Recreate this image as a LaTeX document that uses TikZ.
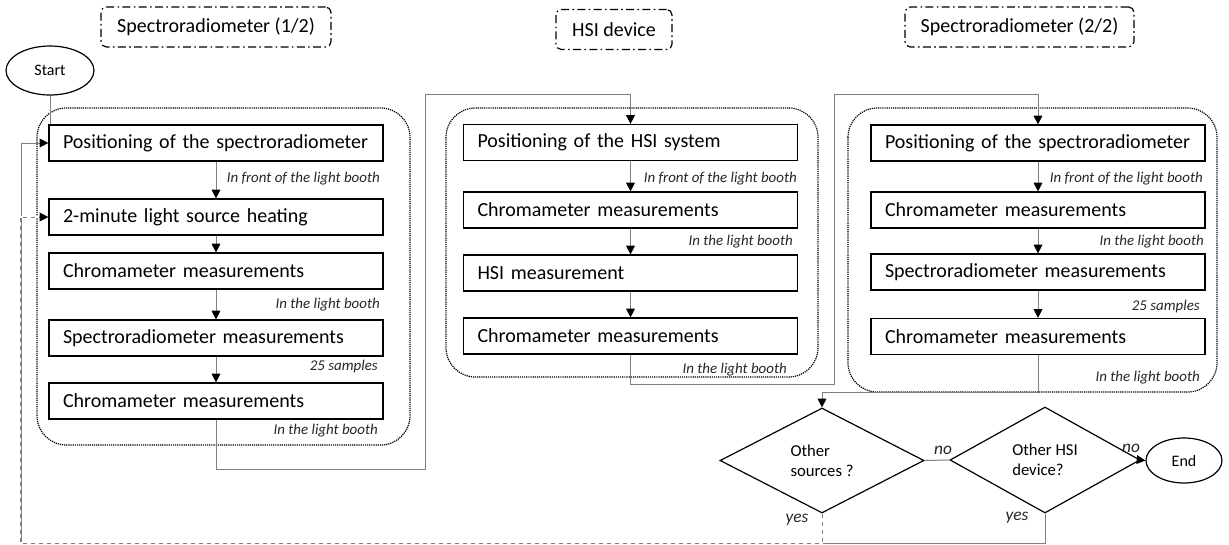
\documentclass[tikz,border=0pt]{standalone}
\usepackage{fontspec}
\setmainfont{Carlito}
\usetikzlibrary{shapes.geometric,arrows.meta}
\begin{document}
\begin{tikzpicture}[x=0.75pt,y=-0.75pt,
  box/.style={draw=black,line width=0.9pt,minimum height=27pt,text width=229.5pt,inner xsep=10.5pt,inner ysep=0pt,align=left,font=\fontsize{15}{18}\selectfont},
  lbl/.style={font=\fontsize{11.2}{13}\selectfont\itshape,anchor=east,inner sep=0pt,text=black!85},
  yn/.style={font=\fontsize{13}{15}\selectfont\itshape,inner sep=0pt,text=black!85},
  ttlbox/.style={draw=black,line width=0.9pt,dash pattern=on 6pt off 2.5pt on 1.2pt off 2.5pt,rounded corners=4pt,minimum height=30pt,inner xsep=0pt,font=\fontsize{15}{18}\selectfont},
  group/.style={draw=black,line width=0.9pt,dash pattern=on 0.9pt off 0.7pt,rounded corners=22pt},
  term/.style={ellipse,draw=black,line width=0.9pt,inner sep=0pt,font=\fontsize{12}{14}\selectfont},
  decision/.style={diamond,draw=black,line width=0.9pt,inner sep=0pt,align=left,font=\fontsize{12.5}{15}\selectfont},
  conn/.style={draw=black!50,line width=0.75pt},
  arr/.style={conn,-{Triangle[width=6.5pt,length=6.5pt,black]}}
]
\useasboundingbox (0,0) rectangle (1229,544);

% group containers
\draw[group] (37,108) rectangle (410,445);
\draw[group] (446,108) rectangle (818,377);
\draw[group] (848,108) rectangle (1217,392);

% titles
\node[ttlbox,minimum width=172.5pt] (t1) at (216,27) {Spectroradiometer (1/2)};
\node[ttlbox,minimum width=87pt] (t2) at (614,29.5) {HSI device};
\node[ttlbox,minimum width=171.75pt] (t3) at (1019.5,27) {Spectroradiometer (2/2)};

% start
\node[term,minimum width=66pt,minimum height=36.75pt] (start) at (50,70.5) {Start};

% column 1
\node[box] (a1) at (216,143) {Positioning of the spectroradiometer};
\node[box] (a2) at (216,217) {2-minute light source heating};
\node[box] (a3) at (216,271) {Chromameter measurements};
\node[box] (a4) at (216,338) {Spectroradiometer measurements};
\node[box] (a5) at (216,401) {Chromameter measurements};
\node[lbl] (la1) at (380,179) {In front of the light booth};
\node[lbl] (la3) at (380,305) {In the light booth};
\node[lbl] (la4) at (378,367) {25 samples};
\node[lbl] (la5) at (378,431) {In the light booth};

% column 2
\node[box] (b1) at (630.5,142.5) {Positioning of the HSI system};
\node[box] (b2) at (630.5,210) {Chromameter measurements};
\node[box] (b3) at (630.5,273) {HSI measurement};
\node[box] (b4) at (630.5,336) {Chromameter measurements};
\node[lbl] (lb1) at (797,179) {In front of the light booth};
\node[lbl] (lb2) at (793,242) {In the light booth};
\node[lbl] (lb4) at (787,370) {In the light booth};

% column 3
\node[box] (c1) at (1038,143) {Positioning of the spectroradiometer};
\node[box] (c2) at (1038,210) {Chromameter measurements};
\node[box] (c3) at (1038,272) {Spectroradiometer measurements};
\node[box] (c4) at (1038,336.5) {Chromameter measurements};
\node[lbl] (lc1) at (1203,179) {In front of the light booth};
\node[lbl] (lc2) at (1204,242) {In the light booth};
\node[lbl] (lc3) at (1200,307) {25 samples};
\node[lbl] (lc4) at (1200,378) {In the light booth};

% decisions
\node[decision,minimum width=153pt,minimum height=78.75pt] (d1) at (822,460.5) {Other\\sources ?};
\node[decision,minimum width=142.5pt,minimum height=79.5pt] (d2) at (1045,460) {Other HSI\\device?};
\node[term,minimum width=57pt,minimum height=33.75pt] (end) at (1184,460.5) {End};

% routing points
\coordinate (k1) at (425,469);
\coordinate (k2) at (425,94);
\coordinate (k3) at (834,384);
\coordinate (k4) at (834,94);
\coordinate (k5) at (822,392);
\coordinate (m1) at (21,543);
\coordinate (m2) at (20,543);

% connectors
\draw[conn] (start) -- (start |- a1.north);
\draw[arr] (a1) -- (a2);
\draw[arr] (a2) -- (a3);
\draw[arr] (a3) -- (a4);
\draw[arr] (a4) -- (a5);
\draw[arr] (a5.south) |- (k1) -- (k2) -| (b1.north);
\draw[arr] (b1) -- (b2);
\draw[arr] (b2) -- (b3);
\draw[arr] (b3) -- (b4);
\draw[arr] (b4.south) |- (k3) -- (k4) -| (c1.north);
\draw[arr] (c1) -- (c2);
\draw[arr] (c2) -- (c3);
\draw[arr] (c3) -- (c4);
\draw[arr] (c4.south) |- (k5) -- (d1.north);
\draw[conn] (d1.east) -- (d2.west);
\draw[arr] (d2.east) -- (end.west);
\draw[arr] (d2.south) |- (m1) |- (a1.west);
\draw[arr,dashed,preaction={draw=white,solid,line width=1.6pt,-}] (d1.south) |- (m2) |- (a2.west);

% decision labels
\node[yn] (no1) at (943,450) {no};
\node[yn] (no2) at (1131,448) {no};
\node[yn] (yes1) at (797,520) {yes};
\node[yn] (yes2) at (1017,518) {yes};
\end{tikzpicture}
\end{document}
